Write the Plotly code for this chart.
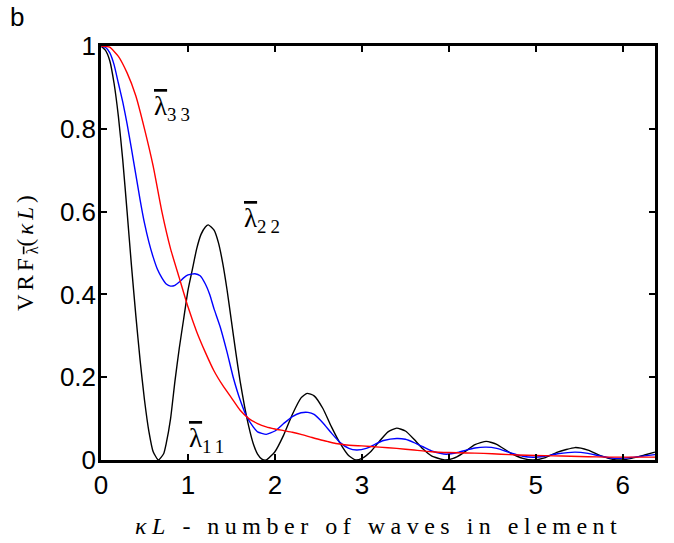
import plotly.graph_objects as go

# ---- data ----
x_black = [0, 0.05, 0.1, 0.15, 0.2, 0.25, 0.3, 0.35, 0.4, 0.45, 0.5, 0.55, 0.6, 0.66,
           0.72, 0.75, 0.8, 0.85, 0.9, 0.95, 1.0, 1.05, 1.1, 1.15, 1.2, 1.234, 1.3, 1.35, 1.4,
           1.45, 1.5, 1.55, 1.6, 1.65, 1.7, 1.75, 1.8, 1.85, 1.9, 2.0, 2.1, 2.2, 2.3,
           2.37, 2.45, 2.55, 2.65, 2.75, 2.85, 2.93, 3.0, 3.1, 3.2, 3.3, 3.4, 3.5, 3.6,
           3.7, 3.8, 3.95, 4.05, 4.15, 4.3, 4.43, 4.55, 4.7, 4.85, 4.97, 5.1, 5.25,
           5.45, 5.6, 5.75, 5.9, 5.97, 6.1, 6.25, 6.37]
y_black = [1.0, 0.99, 0.965, 0.91, 0.83, 0.725, 0.6, 0.47, 0.35, 0.24, 0.145, 0.07, 0.02, 0.0,
           0.015, 0.04, 0.1, 0.19, 0.27, 0.34, 0.41, 0.46, 0.51, 0.545, 0.563, 0.568, 0.555, 0.525, 0.475,
           0.41, 0.335, 0.26, 0.19, 0.13, 0.08, 0.04, 0.014, 0.002, 0.0, 0.02, 0.06, 0.11, 0.15,
           0.161, 0.155, 0.125, 0.08, 0.04, 0.01, 0.0, 0.004, 0.02, 0.045, 0.068, 0.077, 0.07, 0.05,
           0.027, 0.01, 0.0, 0.004, 0.015, 0.037, 0.045, 0.038, 0.018, 0.004, 0.0, 0.005, 0.019,
           0.03, 0.024, 0.01, 0.001, 0.0, 0.004, 0.012, 0.019]

x_blue = [0, 0.05, 0.1, 0.15, 0.2, 0.25, 0.3, 0.35, 0.4, 0.45, 0.5, 0.55, 0.6, 0.65, 0.7,
          0.75, 0.8, 0.85, 0.9, 0.95, 1.0, 1.08, 1.14, 1.2, 1.25, 1.3, 1.37, 1.45, 1.52,
          1.6, 1.675, 1.75, 1.8, 1.9, 2.0, 2.1, 2.2, 2.3, 2.38, 2.45, 2.55, 2.65, 2.75,
          2.85, 2.94, 3.05, 3.15, 3.25, 3.4, 3.5, 3.6, 3.7, 3.8, 3.9, 3.97, 4.1, 4.2,
          4.3, 4.43, 4.55, 4.7, 4.85, 4.97, 5.1, 5.25, 5.45, 5.6, 5.75, 5.9, 5.97, 6.1,
          6.25, 6.37]
y_blue = [1.0, 0.997, 0.984, 0.955, 0.91, 0.865, 0.812, 0.752, 0.69, 0.628, 0.572, 0.527, 0.49, 0.46, 0.44,
          0.425, 0.42, 0.422, 0.43, 0.44, 0.447, 0.45, 0.445, 0.425, 0.4, 0.365, 0.322, 0.26, 0.2,
          0.145, 0.105, 0.08, 0.068, 0.062, 0.07, 0.088, 0.105, 0.114, 0.115, 0.11, 0.09, 0.065, 0.042,
          0.028, 0.024, 0.028, 0.038, 0.047, 0.052, 0.05, 0.042, 0.032, 0.022, 0.016, 0.014, 0.018, 0.024,
          0.029, 0.031, 0.028, 0.018, 0.009, 0.0065, 0.009, 0.015, 0.019, 0.016, 0.009, 0.004, 0.004, 0.006,
          0.01, 0.013]

x_red = [0, 0.1, 0.2, 0.3, 0.4, 0.5, 0.6, 0.7, 0.8, 0.9, 1.0, 1.1, 1.2, 1.3, 1.4, 1.5,
         1.6, 1.7, 1.8, 1.9, 2.0, 2.1, 2.2, 2.3, 2.4, 2.5, 2.6, 2.7, 2.8, 2.9, 3.0, 3.2,
         3.4, 3.6, 3.8, 4.0, 4.2, 4.4, 4.6, 4.8, 5.0, 5.2, 5.4, 5.6, 5.8, 6.0, 6.37]
y_red = [1.0, 0.997, 0.975, 0.935, 0.88, 0.8, 0.71, 0.6, 0.51, 0.44, 0.37, 0.31, 0.26, 0.215, 0.18, 0.15,
         0.12, 0.1, 0.088, 0.08, 0.075, 0.071, 0.067, 0.062, 0.056, 0.05, 0.045, 0.04, 0.037, 0.035, 0.034, 0.031,
         0.028, 0.024, 0.02, 0.018, 0.017, 0.016, 0.014, 0.012, 0.011, 0.01, 0.009, 0.008, 0.007, 0.007, 0.007]

x_ticks = [0, 1, 2, 3, 4, 5, 6]
y_ticks = [0, 0.2, 0.4, 0.6, 0.8, 1]
y_tick_text = ["0", "0.2", "0.4", "0.6", "0.8", "1"]

SERIF = "Liberation Serif, DejaVu Serif, serif"
SANS = "Liberation Sans, Arial, sans-serif"

fig = go.Figure()
for xs, ys, col in [(x_black, y_black, "#000000"), (x_blue, y_blue, "#0000ff"), (x_red, y_red, "#ff0000")]:
    fig.add_trace(go.Scatter(x=xs, y=ys, mode="lines", line=dict(color=col, width=1.4, shape="spline", smoothing=0.5),
                             showlegend=False, hoverinfo="skip"))

axis_common = dict(showline=True, linecolor="black", linewidth=2.5, mirror="allticks", ticks="inside",
                   ticklen=6, tickwidth=2, tickcolor="black", showgrid=False, zeroline=False,
                   tickfont=dict(family=SANS, size=26, color="black"))
fig.update_xaxes(range=[0, 6.37], tickvals=x_ticks, **axis_common)
fig.update_yaxes(range=[0, 1], tickvals=y_ticks, ticktext=y_tick_text, ticklabelstandoff=-3, **axis_common)

ls = "letter-spacing:5.5px"
ls2 = "letter-spacing:4px"
lam = "<span style='text-decoration:overline'>λ</span>"
annos = [
    dict(text=f"<span style='{ls}'><i>κL</i> - number of waves in element</span>", xref="paper", yref="paper",
         x=0.5, y=(460 - 526) / 414, font=dict(family=SERIF, size=24, color="black"), showarrow=False,
         xanchor="center", yanchor="middle"),
    dict(text=f"<span style='{ls2}'>VRF</span><sub>{lam}</sub><span style='{ls2}'>(<i>κL</i>)</span>",
         xref="paper", yref="paper", x=(27 - 101) / 554, y=(460 - 251) / 414, textangle=-90,
         font=dict(family=SERIF, size=23, color="black"), showarrow=False, xanchor="center", yanchor="middle"),
    dict(text=f"{lam}<sub><span style='{ls2}'>33</span></sub>", xref="x", yref="y", x=0.586, y=0.85,
         font=dict(family=SERIF, size=27, color="black"), showarrow=False, xanchor="left", yanchor="middle"),
    dict(text=f"{lam}<sub><span style='{ls2}'>22</span></sub>", xref="x", yref="y", x=1.62, y=0.58,
         font=dict(family=SERIF, size=27, color="black"), showarrow=False, xanchor="left", yanchor="middle"),
    dict(text=f"{lam}<sub><span style='{ls2}'>11</span></sub>", xref="x", yref="y", x=0.99, y=0.048,
         font=dict(family=SERIF, size=27, color="black"), showarrow=False, xanchor="left", yanchor="middle"),
    dict(text="b", xref="paper", yref="paper", x=(8 - 101) / 554, y=(460 - 17) / 414,
         font=dict(family=SANS, size=26, color="black"), showarrow=False, xanchor="left", yanchor="middle"),
]

fig.update_layout(width=674, height=543, margin=dict(l=101, r=19, t=46, b=83),
                  paper_bgcolor="white", plot_bgcolor="white", annotations=annos)

fig.write_html("out.html")
